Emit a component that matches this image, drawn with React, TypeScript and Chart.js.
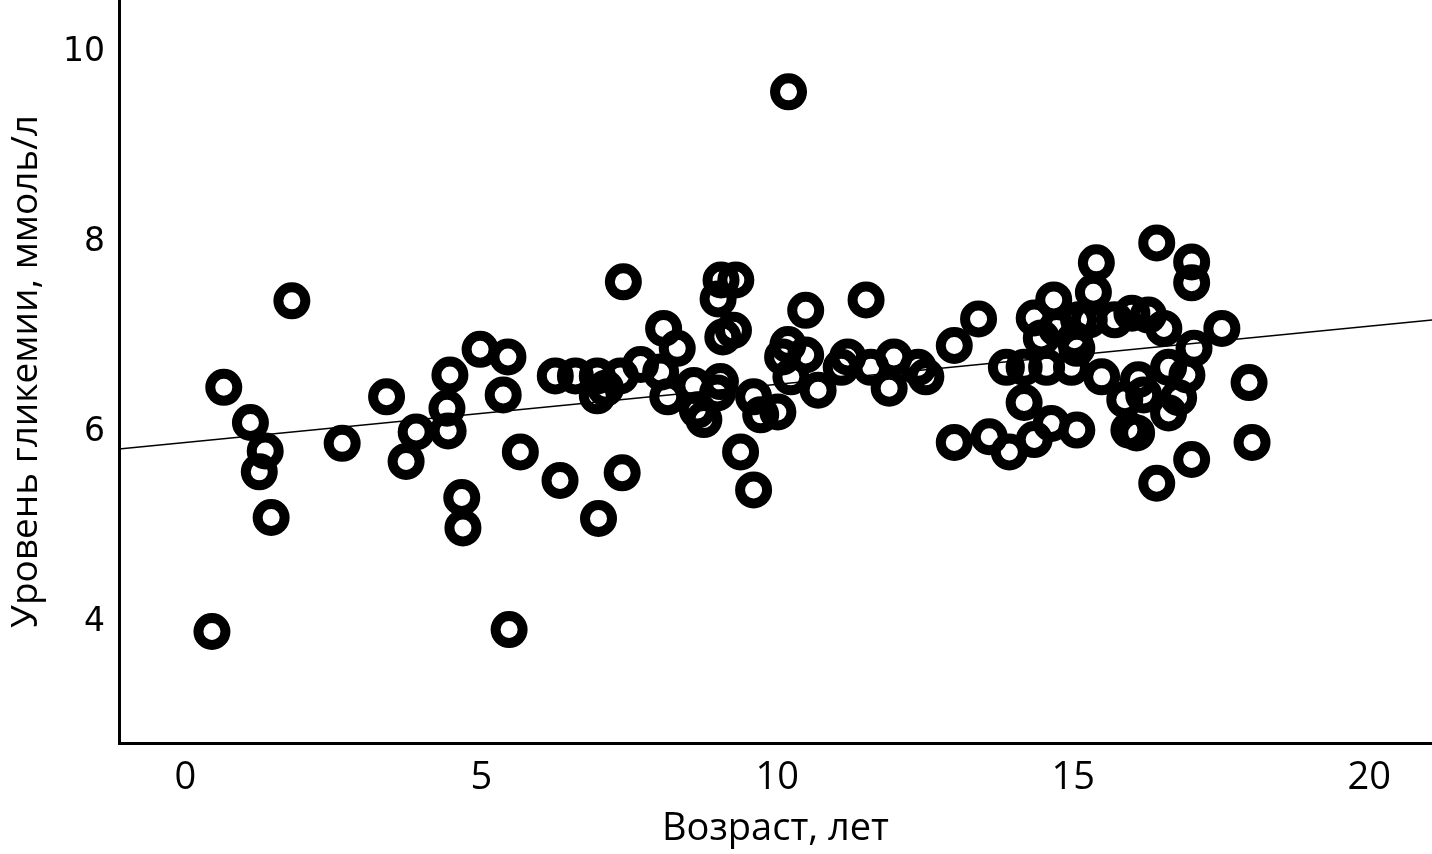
import { useEffect, useRef } from "react";
import { Chart, registerables } from "chart.js";

Chart.register(...registerables);

// ages (years) and glycaemia (mmol/l)
const AGE = [
  0.45, 0.65, 1.1, 1.35, 1.25, 1.45, 1.8, 2.65, 3.4, 3.9, 3.73, 4.42, 4.47, 4.44,
  4.67, 4.69, 4.98, 5.45, 5.37, 5.66, 5.47, 6.25, 6.33, 6.59, 6.96, 6.96, 7.1,
  7.35, 7.4, 7.38, 6.98, 7.69, 8.03, 8.08, 8.31, 8.15, 8.59, 8.65, 8.76, 8.99,
  9.04, 9.0, 9.05, 9.3, 9.08, 9.26, 9.38, 9.6, 9.6, 9.72, 10.01, 10.19, 10.09,
  10.18, 10.48, 10.48, 10.23, 10.69, 11.08, 11.19, 11.5, 11.58, 11.97, 11.89,
  12.38, 12.51, 12.99, 13.4, 12.99, 13.58, 13.87, 14.17, 13.92, 14.17, 14.55,
  14.97, 14.63, 15.06, 14.34, 14.67, 14.34, 14.72, 15.09, 15.34, 15.39, 15.7,
  15.27, 15.02, 15.94, 15.48, 16.41, 17.0, 17.0, 15.99, 16.27, 16.53, 17.51,
  17.04, 16.61, 16.92, 16.1, 16.19, 15.87, 16.78, 16.61, 17.97, 16.07, 18.02,
  17.0, 16.41, 14.46, 15.06,
];
const GLUCOSE = [
  3.9, 6.47, 6.1, 5.8, 5.58, 5.1, 7.38, 5.88, 6.37, 6.0, 5.69, 6.25, 6.6, 6.01,
  5.31, 4.99, 6.87, 6.79, 6.39, 5.79, 3.92, 6.59, 5.49, 6.59, 6.59, 6.38, 6.46,
  6.59, 7.58, 5.57, 5.09, 6.71, 6.63, 7.09, 6.88, 6.37, 6.49, 6.23, 6.13, 6.41,
  6.53, 7.4, 7.6, 7.6, 7.0, 7.07, 5.79, 5.39, 6.37, 6.18, 6.21, 9.58, 6.79,
  6.92, 7.28, 6.81, 6.58, 6.44, 6.68, 6.79, 7.39, 6.68, 6.79, 6.46,
  6.68, 6.58, 6.91, 7.19, 5.89, 5.95, 6.68, 6.31, 5.79, 6.68, 6.68,
  6.68, 6.09, 6.02, 5.92, 7.39, 7.2, 7.09, 7.18, 7.47, 7.78, 7.18,
  7.18, 6.97, 6.02, 6.58, 7.99, 7.79, 7.57, 7.25, 7.23, 7.09, 7.09,
  6.88, 6.68, 6.6, 6.55, 6.39, 6.34, 6.36, 6.2, 6.52, 5.99, 5.89,
  5.71, 5.46, 6.99, 6.88,
];

// fitted line
const FIT_INTERCEPT = 5.89;
const FIT_SLOPE = 0.0612;

const X_MIN = -1.12;
const X_MAX = 21.06;
const Y_MIN = 2.726;
const Y_MAX = 10.547;
const X_TICKS = [0, 5, 10, 15, 20];
const Y_TICKS = [4, 6, 8, 10];

const X_TITLE = "Возраст, лет";
const Y_TITLE = "Уровень гликемии, ммоль/л";

export default function App() {
  const chartRef = useRef<HTMLCanvasElement>(null);

  useEffect(() => {
    if (!chartRef.current) return;
    const ctx = chartRef.current.getContext("2d");
    if (!ctx) return;

    const points = AGE.map((x, i) => ({ x, y: GLUCOSE[i] }));
    const fit = [X_MIN, X_MAX].map((x) => ({ x, y: FIT_INTERCEPT + FIT_SLOPE * x }));
    const labelFont = { family: "'Open Sans', sans-serif", size: 38 };

    // keep the plot area flush with the top and right edges
    const noPad = (s: any) => {
      s.paddingTop = 0;
      s.paddingBottom = 0;
      s.paddingLeft = 0;
      s.paddingRight = 0;
    };

    const chart = new Chart(ctx, {
      type: "scatter",
      data: {
        datasets: [
          {
            label: "points",
            data: points,
            pointStyle: "circle",
            pointRadius: 13.5,
            pointBorderWidth: 10,
            pointBorderColor: "#000",
            pointBackgroundColor: "rgba(0,0,0,0)",
          },
          {
            type: "line",
            label: "fit",
            data: fit,
            borderColor: "#000",
            borderWidth: 1.6,
            pointRadius: 0,
            fill: false,
          },
        ],
      },
      options: {
        animation: false,
        responsive: true,
        maintainAspectRatio: false,
        layout: { padding: 0, autoPadding: false },
        plugins: {
          legend: { display: false },
          tooltip: { enabled: false },
        },
        scales: {
          x: {
            type: "linear",
            min: X_MIN,
            max: X_MAX,
            afterBuildTicks: (s) => {
              s.ticks = X_TICKS.map((value) => ({ value }));
            },
            afterFit: (s) => {
              s.height = 111;
              noPad(s);
            },
            grid: { display: false, drawTicks: false },
            border: { display: true, color: "#000", width: 3 },
            ticks: { color: "#000", font: labelFont, padding: 12, maxRotation: 0 },
            title: {
              display: true,
              text: X_TITLE,
              color: "#000",
              font: labelFont,
              padding: { top: 0, bottom: 2 },
            },
          },
          y: {
            type: "linear",
            min: Y_MIN,
            max: Y_MAX,
            afterBuildTicks: (s) => {
              s.ticks = Y_TICKS.map((value) => ({ value }));
            },
            afterFit: (s) => {
              s.width = 119;
              noPad(s);
            },
            grid: { display: false, drawTicks: false },
            border: { display: true, color: "#000", width: 3 },
            ticks: {
              color: "#000",
              font: { family: "'DejaVu Sans', sans-serif", size: 33 },
              padding: 14,
            },
            title: {
              display: true,
              text: Y_TITLE,
              color: "#000",
              font: { family: "'Open Sans', sans-serif", size: 37 },
              padding: { top: 4, bottom: 0 },
            },
          },
        },
      },
    });

    return () => chart.destroy();
  }, []);

  return (
    <div style={{ position: "absolute", left: 0, top: 0, width: 1432, height: 854, background: "#fff" }}>
      <canvas ref={chartRef} />
    </div>
  );
}
